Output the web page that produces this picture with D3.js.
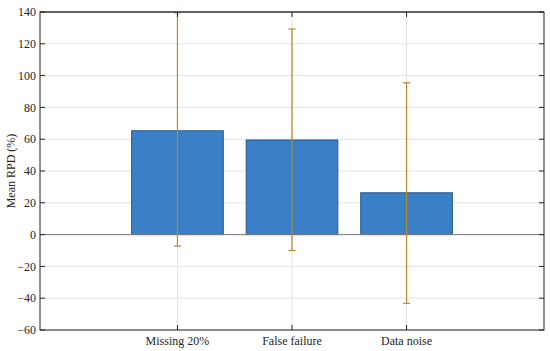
<!DOCTYPE html>
<html>
<head>
<meta charset="utf-8">
<script src="https://cdn.jsdelivr.net/npm/d3@7"></script>
<style>
  body { margin: 0; background: #fff; }
  svg text { font-family: "Liberation Serif", "Times New Roman", serif; }
</style>
</head>
<body>
<div id="chart"></div>
<script>
// data
const categories = ["Missing 20%", "False failure", "Data noise"];
const meanRPD = [65.3, 59.5, 26.3];
const errLow = [-7.2, -10.0, -43.2];
const errHigh = [139.5, 129.3, 95.5];
const yTicks = [-60, -40, -20, 0, 20, 40, 60, 80, 100, 120, 140];

const width = 550, height = 351;
const plotL = 40, plotR = 544, plotT = 12, plotB = 330;

const svg = d3.select("#chart").append("svg")
    .attr("width", width)
    .attr("height", height);

// categories sit at 1,2,3 on a numeric x axis
const x = d3.scaleLinear().domain([-0.2, 4.2]).range([plotL, plotR]);
const y = d3.scaleLinear().domain([-60, 140]).range([plotB, plotT]);
const barW = x(0.8) - x(0);

// grid
svg.append("g").selectAll("line")
    .data(yTicks)
    .join("line")
    .attr("x1", plotL).attr("x2", plotR)
    .attr("y1", d => y(d)).attr("y2", d => y(d))
    .attr("stroke", "#e3e3e3").attr("stroke-width", 1);

svg.append("g").selectAll("line")
    .data(categories)
    .join("line")
    .attr("x1", (d, i) => x(i + 1)).attr("x2", (d, i) => x(i + 1))
    .attr("y1", plotT).attr("y2", plotB)
    .attr("stroke", "#e3e3e3").attr("stroke-width", 1);

// bars
svg.append("g").selectAll("rect")
    .data(meanRPD)
    .join("rect")
    .attr("x", (d, i) => x(i + 1) - barW / 2)
    .attr("width", barW)
    .attr("y", d => y(d))
    .attr("height", d => y(0) - y(d))
    .attr("fill", "#3a80c6")
    .attr("stroke", "#24598a")
    .attr("stroke-width", 1);

// baseline
svg.append("line")
    .attr("x1", plotL).attr("x2", plotR)
    .attr("y1", y(0)).attr("y2", y(0))
    .attr("stroke", "#7a7a7a").attr("stroke-width", 1);

// error bars
const errColor = "#b8882c";
const eb = svg.append("g");
categories.forEach((c, i) => {
    const cx = x(i + 1);
    eb.append("line")
        .attr("x1", cx).attr("x2", cx)
        .attr("y1", y(errLow[i])).attr("y2", y(Math.min(errHigh[i], 140)))
        .attr("stroke", errColor).attr("stroke-width", 1.2);
    [errLow[i], errHigh[i]].forEach(v => {
        if (v > 140) return;
        eb.append("line")
            .attr("x1", cx - 3.5).attr("x2", cx + 3.5)
            .attr("y1", y(v)).attr("y2", y(v))
            .attr("stroke", errColor).attr("stroke-width", 1.2);
    });
});

// axes box + inward ticks
const axisColor = "#262626";
svg.append("rect")
    .attr("x", plotL).attr("y", plotT)
    .attr("width", plotR - plotL).attr("height", plotB - plotT)
    .attr("fill", "none").attr("stroke", axisColor).attr("stroke-width", 1);

// top edge looks a bit heavier/grey in the reference
svg.append("line")
    .attr("x1", plotL).attr("x2", plotR)
    .attr("y1", plotT).attr("y2", plotT)
    .attr("stroke", "#555").attr("stroke-width", 1.5);

const tk = svg.append("g").attr("stroke", axisColor).attr("stroke-width", 1);
yTicks.forEach(t => {
    tk.append("line").attr("x1", plotL).attr("x2", plotL + 5).attr("y1", y(t)).attr("y2", y(t));
    tk.append("line").attr("x1", plotR).attr("x2", plotR - 5).attr("y1", y(t)).attr("y2", y(t));
});
categories.forEach((c, i) => {
    tk.append("line").attr("x1", x(i + 1)).attr("x2", x(i + 1)).attr("y1", plotB).attr("y2", plotB - 5);
    tk.append("line").attr("x1", x(i + 1)).attr("x2", x(i + 1)).attr("y1", plotT).attr("y2", plotT + 5);
});

// tick labels
svg.append("g").selectAll("text")
    .data(yTicks)
    .join("text")
    .attr("x", plotL - 4)
    .attr("y", d => y(d))
    .attr("dy", "0.35em")
    .attr("text-anchor", "end")
    .attr("font-size", 12)
    .attr("fill", "#262626")
    .text(d => d < 0 ? "\u2212" + Math.abs(d) : d);

svg.append("g").selectAll("text")
    .data(categories)
    .join("text")
    .attr("x", (d, i) => x(i + 1))
    .attr("y", plotB + 15)
    .attr("text-anchor", "middle")
    .attr("font-size", 12)
    .attr("fill", "#262626")
    .text(d => d);

// y label
svg.append("text")
    .attr("transform", `translate(15,${(plotT + plotB) / 2}) rotate(-90)`)
    .attr("text-anchor", "middle")
    .attr("font-size", 12)
    .attr("fill", "#262626")
    .text("Mean RPD (%)");
</script>
</body>
</html>
